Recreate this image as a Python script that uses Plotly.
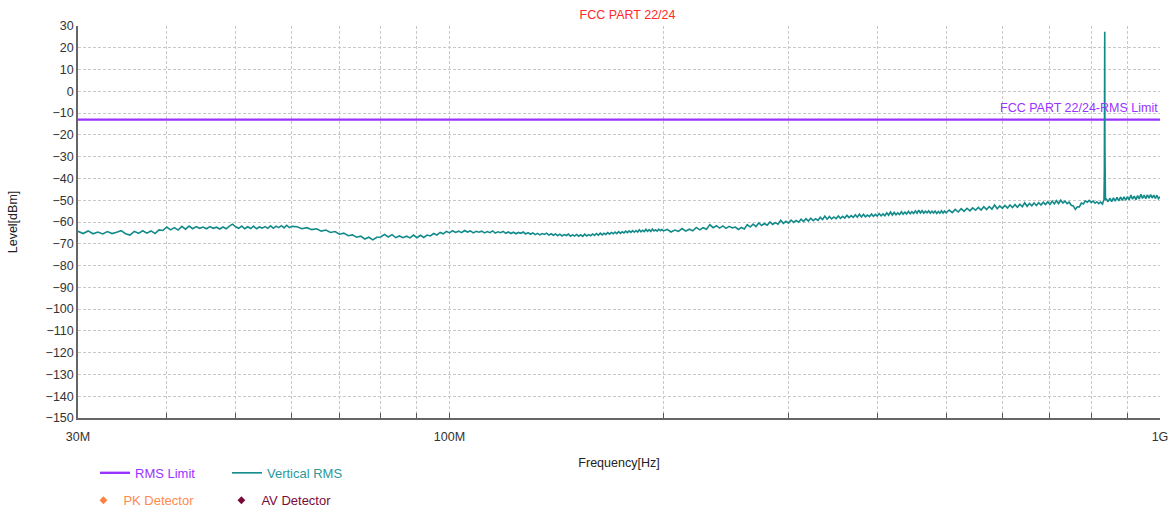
import math
import plotly.graph_objects as go

# ---------------- data ----------------
limit_name = "RMS Limit"
limit_level_dbm = -13.0
limit_freq_mhz = [30.0, 1000.0]

# Vertical RMS sweep, segmented (start MHz, step MHz, levels dBm)
seg_a_start, seg_a_step = 30.0, 0.5
seg_a_levels = [
    -64.3, -65.3, -64.1, -65.4, -64.6, -65.5, -64.4, -65.3, -64.7, -64.0,
    -65.4, -66.0, -64.3, -65.2, -64.0, -65.1, -64.1, -65.3, -63.6, -63.9,
    -62.3, -63.6, -62.6, -63.7, -62.0, -63.3, -61.9, -63.1, -62.1, -62.9,
    -62.3, -63.1, -62.1, -62.9, -62.4, -63.2, -62.3, -63.1, -61.9, -61.0,
    -62.2, -62.9, -61.9, -63.1, -62.2, -63.0, -61.9, -63.1, -62.3, -62.8,
    -62.1, -62.9, -61.8, -62.9, -61.9, -62.6, -61.7, -62.7, -61.5, -62.6,
    -62.0,
]
seg_b_start, seg_b_step = 61.0, 1.0
seg_b_levels = [
    -62.2, -63.1, -62.6, -63.5, -63.1, -64.2, -63.7, -64.8, -64.4, -65.6,
    -65.1, -66.3, -65.9, -67.0, -66.5, -67.8, -67.0, -68.2, -67.0, -66.9,
    -65.7, -66.9, -65.8, -67.2, -66.4, -67.2, -66.5, -67.3, -66.0, -67.2,
    -66.1, -67.1, -66.0, -66.4, -65.3, -66.0, -64.8, -65.4, -64.3, -65.0,
]
seg_c_start, seg_c_step = 101.0, 1.0
seg_c_levels = [
    -64.0, -64.8, -64.2, -64.9, -63.9, -64.6, -64.1, -65.0, -64.3, -64.7,
    -64.2, -65.0, -64.4, -64.9, -64.1, -65.1, -64.5, -64.9, -64.3, -65.2,
    -64.6, -65.3, -64.7, -65.4, -64.8, -65.2, -64.6, -65.5, -64.9, -65.6,
    -65.0, -65.8, -65.2, -65.9, -65.3, -65.7, -65.1, -66.0, -65.4, -66.1,
    -65.5, -66.3, -65.6, -66.4, -65.8, -66.2, -65.5, -66.5, -65.9, -66.4,
    -65.7, -66.5, -65.9, -66.6, -65.6, -66.4, -65.8, -66.3, -65.5, -66.2,
    -65.3, -66.0, -65.1, -65.9, -65.2, -65.7, -64.9, -65.6, -64.8, -65.4,
    -64.6, -65.3, -64.4, -65.2, -64.5, -65.0, -64.2, -64.9, -64.1, -64.8,
    -64.0, -64.7, -63.9, -64.6, -63.6, -64.5, -63.8, -64.4, -63.4, -64.3,
    -63.5, -64.3, -63.2, -64.1, -63.6, -64.2, -63.3, -64.0, -63.5, -64.1,
]
seg_d_start, seg_d_step = 202.5, 2.5
seg_d_levels = [
    -63.4, -64.6, -63.7, -64.3, -63.0, -64.2, -63.3, -64.0,
    -62.5, -63.6, -62.6, -63.3, -61.2, -62.6, -61.7, -62.8,
    -61.8, -62.9, -62.0, -62.7, -62.3, -63.4, -62.5, -63.2,
    -61.2, -62.3, -61.0, -62.1, -60.4, -61.6, -60.7, -61.5,
    -60.0, -61.1, -60.3, -61.0, -59.2, -60.6, -59.7, -60.5,
    -59.1, -60.2, -59.3, -60.1, -58.7, -59.8, -58.5, -59.6,
    -58.3, -59.4, -58.5, -59.3, -57.8, -58.9, -57.3, -58.7,
    -57.5, -58.6, -57.7, -58.5, -57.2, -58.3, -57.4, -58.2,
    -56.9, -58.0, -57.1, -57.9, -56.7, -57.8, -56.4, -57.7,
    -56.5, -57.6, -56.8, -57.5, -56.3, -57.4, -56.5, -57.3,
    -56.1, -57.2, -56.3, -57.1, -55.8, -56.9, -55.4, -56.8,
    -55.6, -56.7, -55.8, -56.6, -55.3, -56.4, -55.5, -56.3,
    -55.1, -56.2, -55.3, -56.1, -54.9, -56.0, -54.5, -55.9,
    -54.8, -55.9, -55.0, -55.8, -54.9, -56.0, -55.1, -55.9,
    -55.0, -56.1, -55.2, -56.0, -54.8, -55.9, -55.0, -55.8,
]
seg_d2_start, seg_d2_step = 505.0, 5.0
seg_d2_levels = [
    -54.5, -55.7, -54.2, -55.4, -53.9, -55.1, -53.7, -54.9, -53.5, -54.6,
    -53.3, -54.5, -53.0, -54.3, -52.9, -54.1, -52.2, -53.9, -52.6, -53.7,
    -52.4, -53.6, -52.2, -53.4, -52.0, -53.2, -51.8, -53.0, -51.2, -52.8,
    -51.5, -52.6, -51.3, -52.4, -51.1, -52.2, -50.9, -52.0, -50.7, -51.9,
    -50.4, -51.7, -50.2, -51.5, -50.0, -51.3, -50.4, -51.6, -50.9, -52.3,
    -52.6, -54.2, -53.0, -53.1, -51.3, -51.7, -50.3, -50.9, -50.1, -51.0,
    -50.4, -51.4, -50.7, -51.6, -50.9, -51.7,
]
spike_freq_mhz = [832.0, 834.0, 835.0, 835.5, 836.0, 836.5, 837.0, 838.0]
spike_levels = [-50.8, -49.5, -37.0, -25.0, 27.4, -25.5, -40.0, -50.0]
seg_e_start, seg_e_step = 840.0, 5.0
seg_e_levels = [
    -49.3, -50.7, -49.1, -50.6, -48.9, -50.4, -48.7, -50.3, -48.5, -50.1,
    -48.4, -50.0, -48.3, -49.8, -47.6, -49.5, -48.1, -49.7, -47.9, -49.4,
    -47.3, -49.2, -47.7, -49.3, -47.5, -49.1, -47.4, -49.0, -47.6, -49.2,
    -47.7, -49.3, -48.4,
]

y_tick_vals = list(range(-150, 31, 10))
x_grid_mhz = [30, 40, 50, 60, 70, 80, 90, 100, 200, 300, 400, 500, 600, 700, 800, 900, 1000]
x_label_map = {30: "30M", 100: "100M", 1000: "1G"}

# ---------------- build series ----------------
freq_mhz, level = [], []
for start, step, vals in [(seg_a_start, seg_a_step, seg_a_levels),
                          (seg_b_start, seg_b_step, seg_b_levels),
                          (seg_c_start, seg_c_step, seg_c_levels),
                          (seg_d_start, seg_d_step, seg_d_levels),
                          (seg_d2_start, seg_d2_step, seg_d2_levels)]:
    for i, v in enumerate(vals):
        freq_mhz.append(start + i * step)
        level.append(v)
freq_mhz += spike_freq_mhz
level += spike_levels
for i, v in enumerate(seg_e_levels):
    freq_mhz.append(seg_e_start + i * seg_e_step)
    level.append(v)

freq_hz = [f * 1e6 for f in freq_mhz]

PURPLE = "#9933ff"
TEAL = "#138a8a"
FONT = "Arial, Liberation Sans, sans-serif"

fig = go.Figure()
fig.add_trace(go.Scatter(
    x=[f * 1e6 for f in limit_freq_mhz], y=[limit_level_dbm, limit_level_dbm],
    mode="lines", line=dict(color=PURPLE, width=2.4),
    name=f"<span style='color:{PURPLE}'>{limit_name}</span>", legend="legend",
    hoverinfo="skip"))
fig.add_trace(go.Scatter(
    x=freq_hz, y=level, mode="lines", line=dict(color=TEAL, width=1.6),
    name="<span style='color:#2a9a9a'>Vertical RMS</span>", legend="legend"))
fig.add_trace(go.Scatter(
    x=[None], y=[None], mode="markers",
    marker=dict(symbol="diamond", color="#ff8040", size=6),
    name="<span style='color:#ff8a50'>PK Detector</span>", legend="legend2"))
fig.add_trace(go.Scatter(
    x=[None], y=[None], mode="markers",
    marker=dict(symbol="diamond", color="#7a0a3a", size=6),
    name="<span style='color:#7a0a3a'>AV Detector</span>", legend="legend2"))

fig.add_annotation(xref="paper", x=1.0, xanchor="right", y=limit_level_dbm,
                   yanchor="bottom", yshift=3, showarrow=False,
                   text="FCC PART 22/24-RMS Limit",
                   font=dict(color=PURPLE, size=12.5, family=FONT))

grid = dict(gridcolor="#c8c8c8", griddash="3px,2px", gridwidth=1)
fig.update_layout(
    width=1173, height=512,
    margin=dict(l=78, r=13, t=26, b=94, autoexpand=False),
    paper_bgcolor="white", plot_bgcolor="white",
    font=dict(family=FONT, size=12, color="#333333"),
    title=dict(text="FCC PART 22/24", x=0.535, xanchor="center", y=0.971,
               yanchor="middle", font=dict(color="#ff2a2a", size=12.5, family=FONT)),
    xaxis=dict(type="log",
               range=[math.log10(30e6) - 1e-6, math.log10(1e9) + 1e-6],
               tickvals=[m * 1e6 for m in x_grid_mhz],
               ticktext=[x_label_map.get(m, "") for m in x_grid_mhz],
               ticks="inside", ticklen=5, tickcolor="#555",
               ticklabelstandoff=6,
               showline=True, linecolor="#666", linewidth=1.5,
               automargin=False,
               title=dict(text="Frequency[Hz]", standoff=15,
                          font=dict(size=12.5, color="#222")),
               tickfont=dict(size=12.5, color="#333"),
               zeroline=False, **grid),
    yaxis=dict(range=[-150, 30], tickvals=y_tick_vals,
               ticks="", showline=True, linecolor="#666", linewidth=1.5,
               automargin=False,
               title=dict(text="Level[dBm]", standoff=25,
                          font=dict(size=12.5, color="#222")),
               tickfont=dict(size=12.5, color="#333"),
               zeroline=False, **grid),
    legend=dict(orientation="h", x=0.0157, y=-0.14, xanchor="left", yanchor="middle",
                entrywidth=87, font=dict(size=13, family=FONT),
                bgcolor="rgba(0,0,0,0)"),
    legend2=dict(orientation="h", x=0.005, y=-0.21, xanchor="left", yanchor="middle",
                 entrywidth=93, font=dict(size=13, family=FONT),
                 bgcolor="rgba(0,0,0,0)"),
    showlegend=True,
)

fig.write_html(
    "out.html",
    config={"displayModeBar": False},
    post_script="document.body.style.margin='0';document.body.style.padding='0';"
                "document.documentElement.style.overflow='hidden';",
)
